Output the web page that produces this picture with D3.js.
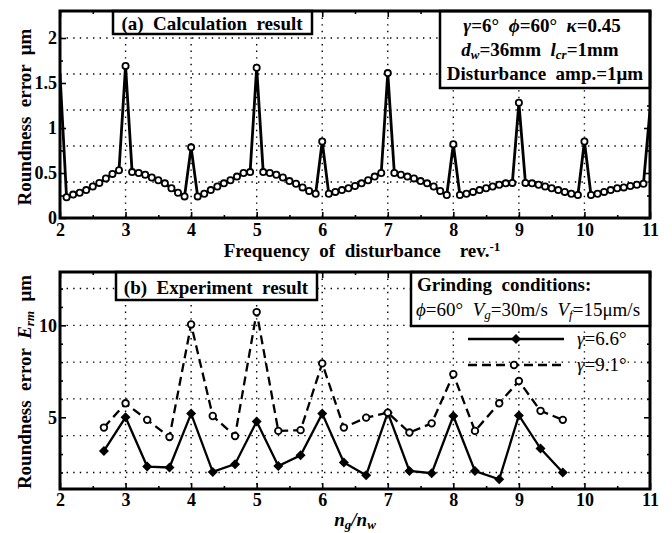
<!DOCTYPE html>
<html lang="en">
<head>
  <meta charset="UTF-8" />
  <title>Roundness error vs. frequency of disturbance</title>
  <script src="https://d3js.org/d3.v7.min.js"></script>
  <style>
    body { margin: 0; background: #fff; }
    svg { display: block; }
    svg text { font-family: 'Liberation Serif', 'Times New Roman', 'DejaVu Serif', serif; fill: #000; }
    .grid line { stroke: #000; stroke-width: 1.4; stroke-dasharray: 1.4 5.2; }
    .frame { fill: none; stroke: #000; stroke-width: 3; }
    .note-box { fill: #fff; stroke: #000; stroke-width: 2.5; }
    .label { font-size: 19px; font-weight: bold; }
    .plain { font-size: 19px; }
  </style>
</head>
<body>
  <svg id="chart" width="672" height="533"></svg>

  <script>
    // ---- (a) calculation result: frequency of disturbance (rev^-1) vs roundness error (um)
    const freqA = [
      2.0,
      2.1, 2.2, 2.3, 2.4, 2.5, 2.6, 2.7, 2.8, 2.9, 3.0,
      3.1, 3.2, 3.3, 3.4, 3.5, 3.6, 3.7, 3.8, 3.9, 4.0,
      4.1, 4.2, 4.3, 4.4, 4.5, 4.6, 4.7, 4.8, 4.9, 5.0,
      5.1, 5.2, 5.3, 5.4, 5.5, 5.6, 5.7, 5.8, 5.9, 6.0,
      6.1, 6.2, 6.3, 6.4, 6.5, 6.6, 6.7, 6.8, 6.9, 7.0,
      7.1, 7.2, 7.3, 7.4, 7.5, 7.6, 7.7, 7.8, 7.9, 8.0,
      8.1, 8.2, 8.3, 8.4, 8.5, 8.6, 8.7, 8.8, 8.9, 9.0,
      9.1, 9.2, 9.3, 9.4, 9.5, 9.6, 9.7, 9.8, 9.9, 10.0,
      10.1, 10.2, 10.3, 10.4, 10.5, 10.6, 10.7, 10.8, 10.9, 11.0
    ];
    const errA = [
      1.60,
      0.23, 0.26, 0.28, 0.31, 0.35, 0.39, 0.44, 0.49, 0.53, 1.69,
      0.51, 0.50, 0.48, 0.45, 0.42, 0.385, 0.33, 0.28, 0.24, 0.785,
      0.24, 0.27, 0.31, 0.35, 0.385, 0.42, 0.46, 0.50, 0.51, 1.67,
      0.51, 0.50, 0.48, 0.45, 0.41, 0.38, 0.34, 0.30, 0.27, 0.85,
      0.27, 0.29, 0.31, 0.33, 0.355, 0.385, 0.42, 0.46, 0.50, 1.61,
      0.50, 0.48, 0.46, 0.44, 0.41, 0.385, 0.35, 0.30, 0.255, 0.82,
      0.255, 0.27, 0.29, 0.31, 0.33, 0.35, 0.37, 0.385, 0.39, 1.28,
      0.39, 0.385, 0.37, 0.35, 0.33, 0.31, 0.29, 0.27, 0.255, 0.85,
      0.255, 0.27, 0.29, 0.31, 0.33, 0.34, 0.355, 0.37, 0.38, 1.20
    ];

    // ---- (b) experiment result: ng/nw vs roundness error Erm (um)
    const ratioB = [2.67, 3.00, 3.33, 3.67, 4.00, 4.33, 4.67, 5.00, 5.33, 5.67, 6.00,
                    6.33, 6.67, 7.00, 7.33, 7.67, 8.00, 8.33, 8.70, 9.00, 9.33, 9.67];
    const err66 = [3.17, 5.00, 2.32, 2.27, 5.20, 2.03, 2.45, 4.77, 2.35, 2.93, 5.20,
                   2.54, 1.85, 5.25, 2.08, 1.96, 5.07, 2.08, 1.63, 5.10, 3.30, 2.00];
    const err91 = [4.44, 5.76, 4.86, 3.93, 10.05, 5.07, 3.98, 10.72, 4.26, 4.30, 7.93,
                   4.44, 4.98, 5.25, 4.17, 4.67, 7.34, 4.26, 5.76, 6.97, 5.35, 4.86];

    // tick / grid values
    const xMajor = [2, 3, 4, 5, 6, 7, 8, 9, 10, 11];
    const xMinor = [2.5, 3.5, 4.5, 5.5, 6.5, 7.5, 8.5, 9.5, 10.5];
    const xGrid = [3, 4, 5, 6, 7, 8, 9, 10];
    const yMajorA = [0, 0.5, 1, 1.5, 2];
    const yMinorA = [0.25, 0.75, 1.25, 1.75];
    const yGridA = [0.4, 0.8, 1.2, 1.6, 2.0];
    const yMajorB = [5, 10];
    const yMinorB = [2, 3, 4, 6, 7, 8, 9, 11, 12];
    const yGridB = [2, 4, 6, 8, 10, 12];

    const FONT = "'Liberation Serif', 'Times New Roman', 'DejaVu Serif', serif";
    const svg = d3.select('#chart');

    const x = d3.scaleLinear().domain([2, 11]).range([60, 650]);
    const yA = d3.scaleLinear().domain([0, 2.3]).range([218, 11]);
    const yB = d3.scaleLinear().domain([1.1, 12.9]).range([489, 272]);

    // draws grid, inward ticks, tick labels for one panel
    function drawPanel(g, y, yMajor, yMinor, yGrid, pad) {
      const [y0, y1] = y.range();

      const grid = g.append('g').attr('class', 'grid');
      grid.selectAll('.gv').data(xGrid).join('line')
        .attr('x1', d => x(d)).attr('x2', d => x(d))
        .attr('y1', y1).attr('y2', y0);
      grid.selectAll('.gh').data(yGrid).join('line')
        .attr('x1', x(2)).attr('x2', x(11))
        .attr('y1', d => y(d)).attr('y2', d => y(d));

      const styleAxis = a => {
        a.attr('font-family', null).attr('font-size', null);
        a.select('.domain').remove();
        a.selectAll('line').attr('stroke-width', 1.6);
        a.selectAll('text')
          .style('font-family', FONT)
          .style('font-size', '18px').style('font-weight', 'bold');
      };

      // bottom / top ticks
      g.append('g').attr('transform', `translate(0,${y0})`)
        .call(d3.axisBottom(x).tickValues(xMajor).tickSize(-6).tickPadding(pad).tickFormat(d3.format('d')))
        .call(styleAxis);
      g.append('g').attr('transform', `translate(0,${y0})`)
        .call(d3.axisBottom(x).tickValues(xMinor).tickSize(-3).tickFormat(''))
        .call(styleAxis);
      g.append('g').attr('transform', `translate(0,${y1})`)
        .call(d3.axisTop(x).tickValues(xMajor).tickSize(-6).tickFormat(''))
        .call(styleAxis);
      g.append('g').attr('transform', `translate(0,${y1})`)
        .call(d3.axisTop(x).tickValues(xMinor).tickSize(-3).tickFormat(''))
        .call(styleAxis);

      // left / right ticks
      g.append('g').attr('transform', `translate(${x(2)},0)`)
        .call(d3.axisLeft(y).tickValues(yMajor).tickSize(-6).tickPadding(3).tickFormat(d => String(d)))
        .call(styleAxis);
      g.append('g').attr('transform', `translate(${x(2)},0)`)
        .call(d3.axisLeft(y).tickValues(yMinor).tickSize(-3).tickFormat(''))
        .call(styleAxis);
      g.append('g').attr('transform', `translate(${x(11)},0)`)
        .call(d3.axisRight(y).tickValues(yMajor).tickSize(-6).tickFormat(''))
        .call(styleAxis);
      g.append('g').attr('transform', `translate(${x(11)},0)`)
        .call(d3.axisRight(y).tickValues(yMinor).tickSize(-3).tickFormat(''))
        .call(styleAxis);
    }

    function drawFrame(g, y) {
      const [y0, y1] = y.range();
      g.append('rect').attr('class', 'frame')
        .attr('x', x(2)).attr('y', y1)
        .attr('width', x(11) - x(2)).attr('height', y0 - y1);
    }

    // text helper: parts = [[text, {italic, sub, sup}], ...]
    function richText(g, px, py, parts, cls, anchor) {
      const t = g.append('text').attr('class', cls)
        .attr('x', px).attr('y', py)
        .attr('text-anchor', anchor || 'start')
        .style('white-space', 'pre');
      parts.forEach(([s, o = {}]) => {
        const ts = t.append('tspan').text(s);
        if (o.italic) ts.attr('font-style', 'italic');
        if (o.sub) ts.attr('font-size', '13px').attr('baseline-shift', '-25%');
        if (o.sup) ts.attr('font-size', '13px').attr('baseline-shift', '50%');
      });
      return t;
    }

    // ================= panel (a) =================
    const gA = svg.append('g');
    drawPanel(gA, yA, yMajorA, yMinorA, yGridA, 5);

    svg.append('clipPath').attr('id', 'clipA').append('rect')
      .attr('x', x(2)).attr('y', yA(2.3)).attr('width', x(11) - x(2)).attr('height', yA(0) - yA(2.3));

    const ptsA = freqA.map((f, i) => [f, errA[i]]);
    gA.append('path')
      .datum(ptsA)
      .attr('clip-path', 'url(#clipA)')
      .attr('fill', 'none').attr('stroke', '#000').attr('stroke-width', 2.8)
      .attr('stroke-linejoin', 'round')
      .attr('d', d3.line().x(d => x(d[0])).y(d => yA(d[1])));

    // markers only inside the frame (end points are hidden by the border)
    gA.append('g').selectAll('circle')
      .data(ptsA.filter(d => d[0] > 2 && d[0] < 11))
      .join('circle')
      .attr('cx', d => x(d[0])).attr('cy', d => yA(d[1]))
      .attr('r', 3.1).attr('fill', '#fff').attr('stroke', '#000').attr('stroke-width', 1.8);

    // title box
    gA.append('rect').attr('class', 'note-box')
      .attr('x', 113).attr('y', yA(2.3)).attr('width', 199).attr('height', 23);
    richText(gA, 212, 30, [['(a)  Calculation  result']], 'label', 'middle');

    // condition box
    gA.append('rect').attr('class', 'note-box')
      .attr('x', 440).attr('y', yA(2.3)).attr('width', 210).attr('height', 77);
    richText(gA, 542, 32, [
      ['γ', { italic: true }], ['=6°  '], ['ϕ', { italic: true }], ['=60°  '],
      ['κ', { italic: true }], ['=0.45']
    ], 'label', 'middle');
    richText(gA, 540, 56, [
      ['d', { italic: true }], ['w', { italic: true, sub: true }], ['=36mm  '],
      ['l', { italic: true }], ['cr', { italic: true, sub: true }], ['=1mm']
    ], 'label', 'middle');
    richText(gA, 545, 80, [['Disturbance  amp.=1μm']], 'label', 'middle');

    drawFrame(gA, yA);

    // axis titles
    richText(gA, 362, 257, [['Frequency  of  disturbance    rev.'], ['-1', { sup: true }]], 'label', 'middle');
    richText(gA, 0, 0, [['Roundness  error  μm']], 'label', 'middle')
      .attr('transform', 'translate(31,117) rotate(-90)');

    // ================= panel (b) =================
    const gB = svg.append('g');
    drawPanel(gB, yB, yMajorB, yMinorB, yGridB, 4);

    const pts66 = ratioB.map((r, i) => [r, err66[i]]);
    const pts91 = ratioB.map((r, i) => [r, err91[i]]);
    const lineB = d3.line().x(d => x(d[0])).y(d => yB(d[1]));

    gB.append('path').datum(pts91)
      .attr('fill', 'none').attr('stroke', '#000').attr('stroke-width', 2.3)
      .attr('stroke-dasharray', '9 5').attr('d', lineB);
    gB.append('path').datum(pts66)
      .attr('fill', 'none').attr('stroke', '#000').attr('stroke-width', 2.3)
      .attr('d', lineB);

    const diamond = d3.symbol().type(d3.symbolSquare).size(50);
    gB.append('g').selectAll('path')
      .data(pts66).join('path')
      .attr('d', diamond)
      .attr('transform', d => `translate(${x(d[0])},${yB(d[1])}) rotate(45)`)
      .attr('fill', '#000');
    gB.append('g').selectAll('circle')
      .data(pts91).join('circle')
      .attr('cx', d => x(d[0])).attr('cy', d => yB(d[1]))
      .attr('r', 3.3).attr('fill', '#fff').attr('stroke', '#000').attr('stroke-width', 1.8);

    // title box
    gB.append('rect').attr('class', 'note-box')
      .attr('x', 116).attr('y', yB(12.9)).attr('width', 201).attr('height', 28);
    richText(gB, 216, 294, [['(b)  Experiment  result']], 'label', 'middle');

    // grinding conditions box
    gB.append('rect').attr('class', 'note-box')
      .attr('x', 411).attr('y', yB(12.9)).attr('width', 239).attr('height', 54);
    richText(gB, 417, 291, [['Grinding  conditions:']], 'label');
    richText(gB, 416, 316, [
      ['ϕ', { italic: true }], ['=60°  '],
      ['V', { italic: true }], ['g', { italic: true, sub: true }], ['=30m/s  '],
      ['V', { italic: true }], ['f', { italic: true, sub: true }], ['=15μm/s']
    ], 'plain');

    // legend
    const legend = gB.append('g');
    legend.append('line').attr('x1', 468).attr('x2', 564).attr('y1', 339).attr('y2', 339)
      .attr('stroke', '#000').attr('stroke-width', 2.3);
    legend.append('path').attr('d', diamond)
      .attr('transform', 'translate(516,339) rotate(45)').attr('fill', '#000');
    richText(legend, 577, 345, [['γ', { italic: true }], ['=6.6°']], 'plain');

    legend.append('line').attr('x1', 468).attr('x2', 564).attr('y1', 365).attr('y2', 365)
      .attr('stroke', '#000').attr('stroke-width', 2.3).attr('stroke-dasharray', '9 5');
    legend.append('circle').attr('cx', 514).attr('cy', 365).attr('r', 3.3)
      .attr('fill', '#fff').attr('stroke', '#000').attr('stroke-width', 1.8);
    richText(legend, 577, 371, [['γ', { italic: true }], ['=9.1°']], 'plain');

    drawFrame(gB, yB);

    // axis titles
    richText(gB, 355, 526, [['n', { italic: true }], ['g', { italic: true, sub: true }],
      ['/', { italic: true }], ['n', { italic: true }], ['w', { italic: true, sub: true }]], 'label', 'middle');
    richText(gB, 0, 0, [['Roundness  error  '], ['E', { italic: true }], ['rm', { italic: true, sub: true }], ['  μm']],
      'label', 'middle')
      .attr('transform', 'translate(31,382) rotate(-90)');
  </script>
</body>
</html>
